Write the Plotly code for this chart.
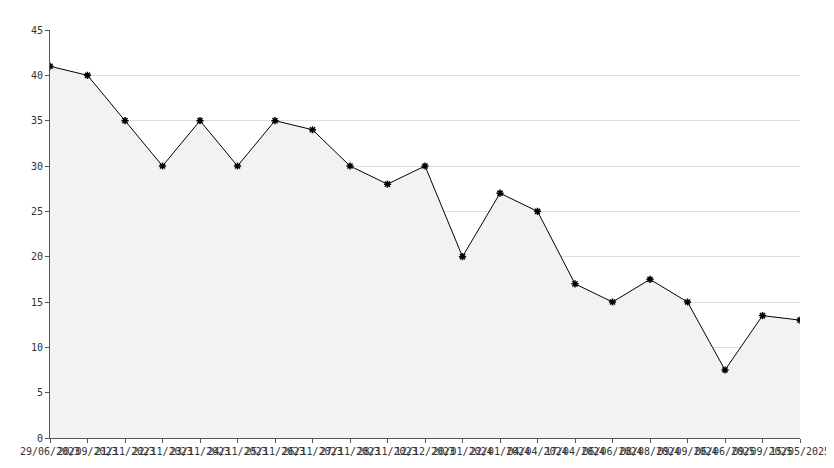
import plotly.graph_objects as go

dates = ["29/06/2023","20/09/2023","21/11/2023","22/11/2023","23/11/2023","24/11/2023",
         "25/11/2023","26/11/2023","27/11/2023","28/11/2023","12/12/2023","20/01/2024",
         "22/01/2024","04/04/2024","17/04/2024","06/06/2024","08/08/2024","09/09/2024",
         "06/06/2025","09/09/2025","15/05/2025"]
values = [41,40,35,30,35,30,35,34,30,28,30,20,27,25,17,15,17.5,15,7.5,13.5,13]

fig = go.Figure(go.Scatter(
    x=list(range(len(dates))), y=values, mode="lines+markers",
    line=dict(color="black", width=1),
    marker=dict(symbol="asterisk", size=6, color="black", line=dict(color="black", width=1.5)),
    fill="tozeroy", fillcolor="#f2f2f2"))
fig.update_layout(
    width=834, height=468, margin=dict(l=42, r=38, t=22, b=38),
    plot_bgcolor="white", paper_bgcolor="white", showlegend=False,
    font=dict(family="DejaVu Sans Mono", size=10, color="#333"),
    xaxis=dict(tickmode="array", tickvals=list(range(len(dates))), ticktext=dates,
               range=[0, len(dates)-1], showgrid=False, tickangle=0,
               showline=True, linecolor="#555", ticks="outside", ticklen=4, tickcolor="#555"),
    yaxis=dict(range=[0,45], dtick=5, gridcolor="#ddd", showline=True, linecolor="#555",
               ticks="outside", ticklen=4, tickcolor="#555", zeroline=False),
)
fig.write_html("out.html")
